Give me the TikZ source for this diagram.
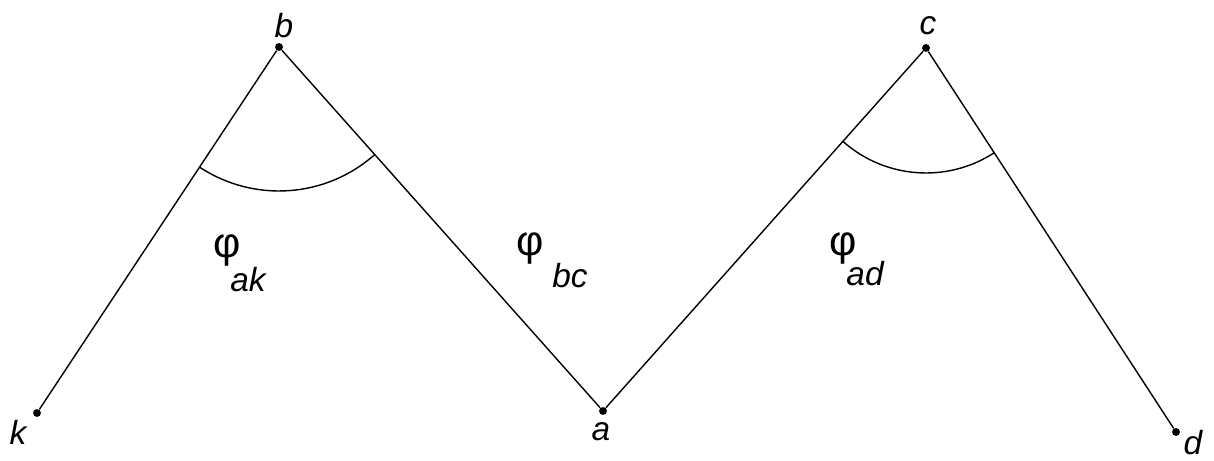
\documentclass[tikz,border=0pt]{standalone}
\usepackage{fontspec}
\setmainfont{Liberation Sans}
\usepackage{tikz}
\usetikzlibrary{calc}

\begin{document}
\begin{tikzpicture}[x=0.02cm, y=0.02cm,
  pt/.style={circle, fill=black, inner sep=0pt, minimum size=4.5pt},
  lbl/.style={font=\fontsize{19}{21}\selectfont\itshape, inner sep=0pt},
  phi/.style={font=\fontsize{24}{26}\selectfont, inner sep=0pt},
  ln/.style={line width=0.8pt}]
  \useasboundingbox (0,0) rectangle (1214,460);
  % points
  \node[pt] (k) at (37,47) {};
  \node[pt] (b) at (279,413) {};
  \node[pt] (a) at (603,49) {};
  \node[pt] (c) at (926,412) {};
  \node[pt] (d) at (1176,28) {};
  % point names
  \node[lbl] (kl) at (18,28) {k};
  \node[lbl] (bl) at (284,434) {b};
  \node[lbl] (al) at (601,28) {a};
  \node[lbl] (cl) at (928,434) {c};
  \node[lbl] (dl) at (1193,17) {d};
  % the polyline
  \draw[ln] (k) -- (b) -- (a) -- (c) -- (d);
  % angle arcs
  \draw[ln] ($(b)+(236.5:144)$) arc[start angle=236.5, end angle=311.7, radius=144];
  \draw[ln] ($(c)+(228.3:125)$) arc[start angle=228.3, end angle=303.1, radius=125];
  % angle names
  \node[phi] (pak) at (227,210) {φ};
  \node[lbl] (sak) at (248,180) {ak};
  \node[phi] (pbc) at (530,212) {φ};
  \node[lbl] (sbc) at (570,184) {bc};
  \node[phi] (pad) at (843,212) {φ};
  \node[lbl] (sad) at (865,186) {ad};
\end{tikzpicture}
\end{document}
